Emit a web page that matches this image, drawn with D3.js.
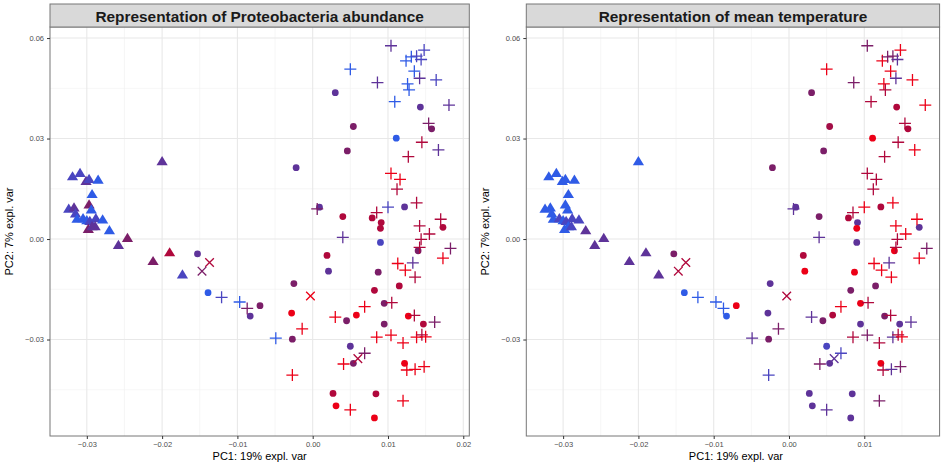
<!DOCTYPE html>
<html><head><meta charset="utf-8">
<script src="https://cdn.jsdelivr.net/npm/d3@7"></script>
<style>body{margin:0;background:#fff;} svg{display:block;font-family:"Liberation Sans",Arial,Helvetica,sans-serif;}</style>
</head><body><svg id="c" width="941" height="465"></svg>
<script>
// PCA coordinates of samples
const pc1 = [-0.0200,-0.0319,-0.0309,-0.0301,-0.0297,-0.0285,-0.0293,-0.0324,-0.0317,-0.0297,-0.0294,-0.0315,-0.0313,-0.0305,-0.0300,-0.0296,-0.0288,-0.0279,-0.0298,-0.0293,-0.0289,-0.0270,-0.0258,-0.0246,-0.0212,-0.0190,-0.0173,
 -0.0153,-0.0139,-0.0083,-0.0070,0.0030,0.0143,0.0054,0.0158,0.0111,0.0046,-0.0022,0.0009,0.0122,0.0040,0.0079,0.0091,0.0090,0.0173,0.0090,0.0140,0.0019,0.0021,0.0087,-0.0025,0.0082,0.0115,0.0095,-0.0028,0.0045,0.0058,0.0127,0.0147,0.0095,-0.0027,0.0050,0.0054,0.0122,0.0027,0.0084,0.0031,0.0082,
 -0.0137,-0.0147,-0.0003,0.0060,
 -0.0121,-0.0097,-0.0087,-0.0049,0.0104,0.0148,0.0050,0.0124,0.0131,0.0138,0.0144,0.0135,0.0142,0.0164,0.0086,0.0126,0.0128,0.0109,0.0181,0.0154,0.0145,0.0167,0.0127,0.0104,0.0116,0.0112,0.0006,0.0085,0.0100,0.0138,0.0170,0.0142,0.0040,0.0155,0.0144,0.0142,0.0183,0.0173,0.0113,0.0133,0.0123,0.0136,0.0069,0.0105,0.0030,0.0135,0.0162,-0.0014,0.0085,0.0104,0.0120,0.0138,0.0145,0.0150,0.0069,0.0041,0.0125,0.0136,0.0148,-0.0027,0.0120,0.0050];
const pc2 = [0.0231,0.0186,0.0196,0.0172,0.0178,0.0176,0.0133,0.0089,0.0093,0.0102,0.0087,0.0075,0.0059,0.0061,0.0055,0.0053,0.0061,0.0057,0.0029,0.0037,0.0037,0.0025,-0.0019,0.0002,-0.0067,-0.0041,-0.0107,
 -0.0044,-0.0160,-0.0230,-0.0199,0.0437,0.0394,0.0336,0.0329,0.0301,0.0263,0.0213,0.0095,0.0096,0.0067,0.0063,0.0049,0.0032,0.0035,-0.0010,-0.0035,-0.0049,-0.0096,-0.0099,-0.0133,-0.0153,-0.0140,-0.0192,-0.0221,-0.0244,-0.0227,-0.0230,-0.0254,-0.0254,-0.0299,-0.0320,-0.0371,-0.0371,-0.0461,-0.0462,-0.0498,-0.0534,
 -0.0070,-0.0096,-0.0170,-0.0357,
 -0.0174,-0.0188,-0.0207,-0.0296,0.0577,0.0564,0.0507,0.0532,0.0544,0.0546,0.0536,0.0501,0.0480,0.0475,0.0467,0.0463,0.0445,0.0410,0.0400,0.0345,0.0289,0.0266,0.0246,0.0196,0.0178,0.0149,0.0090,0.0079,0.0095,0.0108,0.0059,0.0039,0.0005,0.0015,-0.0001,-0.0025,-0.0028,-0.0057,-0.0073,-0.0071,-0.0093,-0.0114,-0.0202,-0.0190,-0.0233,-0.0228,-0.0248,-0.0268,-0.0293,-0.0287,-0.0310,-0.0293,-0.0286,-0.0292,-0.0341,-0.0373,-0.0391,-0.0389,-0.0381,-0.0406,-0.0483,-0.0510];
// point shape group: T triangle, C circle, X cross, P plus
const shapes = "TTTTTTTTTTTTTTTTTTTTTTTTTTT".split("")
  .concat("CCCCCCCCCCCCCCCCCCCCCCCCCCCCCCCCCCCCCCCCC".split(""))
  .concat("XXXX".split(""))
  .concat("PPPPPPPPPPPPPPPPPPPPPPPPPPPPPPPPPPPPPPPPPPPPPPPPPPPPPPPPPPPPPP".split(""));
// relative Proteobacteria abundance (0 = low, 1 = high)
const proteo = [.4,.2,.2,.4,.2,0,0,.2,.4,.55,0,.2,0,0,0,.2,.2,0,.55,.4,.4,0,.4,.55,.55,.75,.2,
 .4,0,.4,.55,.4,.4,.55,.55,0,.55,.4,.4,.4,.75,.75,.75,.75,.75,.2,.55,.75,.4,.55,.55,.75,.75,.55,1,.55,1,1,.75,.55,.55,.4,.55,1,.75,.75,1,1,
 .75,.55,1,.75,
 .2,0,.55,0,.4,.2,0,0,0,.2,.2,0,.4,.2,.4,0,0,0,.4,.55,.75,.4,.75,1,1,.75,.55,.75,.2,.75,.75,.75,.4,.75,.75,.75,.55,1,1,.4,1,.75,1,.75,1,.75,.55,1,1,1,1,1,.75,1,.55,1,1,1,1,1,1,1];
// relative mean temperature (0 = low, 1 = high)
const temp = [0,0,0,0,0,0,0,0,0,0,0,0,0,.2,0,.2,.2,.2,0,0,.2,.4,.4,.4,.4,.4,.4,
 .55,0,0,1,.55,.75,.7,.75,1,.55,.55,.4,.75,.55,.75,.4,1,.4,.4,1,.75,1,1,.4,.55,.55,1,.4,.55,.75,.55,.4,.4,.55,.2,.4,1,.4,.4,.4,.4,
 .75,.75,.75,.4,
 0,0,0,.4,.55,1,1,1,.55,.55,.4,1,.4,1,.55,1,.75,.75,1,.75,.75,1,.75,.75,.75,.75,.4,.75,1,1,1,1,.4,1,.75,.75,.55,1,1,.4,1,1,1,.75,.4,.75,.4,.55,.75,.55,.75,.4,.75,1,.2,.55,.75,.4,.55,.2,.55,.4];
const titles = ["Representation of Proteobacteria abundance", "Representation of mean temperature"];
const xTicks = [-0.03,-0.02,-0.01,0,0.01,0.02];
const xMinor = [-0.025,-0.015,-0.005,0.005,0.015];
const yTicks = [-0.03,0,0.03,0.06];
const yMinor = [-0.045,-0.015,0.015,0.045];
const xLabel = "PC1: 19% expl. var", yLabel = "PC2: 7% expl. var";

const color = d3.scaleLinear()
  .domain([0,0.2,0.4,0.55,0.75,1])
  .range(["#2f5be6","#4a45c0","#5e3399","#7b1e68","#b0083c","#ec0017"])
  .interpolate(d3.interpolateRgb);

const svg = d3.select("#c");
const panels = [
  {x0:50, x1:469.3, w:419.3, vals:proteo, title:titles[0]},
  {x0:526.3, x1:939.6, w:419.3, vals:temp, title:titles[1]}
];
const y0 = 27, y1 = 436;
const y = d3.scaleLinear().domain([-0.0588, 0.0633]).range([y1, y0]);

const triPath = "M0,-5.6L5.6,3.6L-5.6,3.6Z";

panels.forEach((p, pi) => {
  const x = d3.scaleLinear().domain([-0.03489, 0.02080]).range([p.x0, p.x0 + p.w]);
  const g = svg.append("g");
  const cid = "clip" + pi;
  svg.append("clipPath").attr("id", cid).append("rect")
    .attr("x", p.x0).attr("y", y0).attr("width", p.x1 - p.x0).attr("height", y1 - y0);
  const pg = g.append("g").attr("clip-path", `url(#${cid})`);
  pg.append("rect").attr("x", p.x0).attr("y", y0).attr("width", p.x1 - p.x0).attr("height", y1 - y0).attr("fill", "#fff");
  // grid
  pg.selectAll(".xm").data(xMinor).join("line").attr("x1", d => x(d)).attr("x2", d => x(d)).attr("y1", y0).attr("y2", y1)
    .attr("stroke", "#f0f0f0").attr("stroke-width", 0.6);
  pg.selectAll(".ym").data(yMinor).join("line").attr("y1", d => y(d)).attr("y2", d => y(d)).attr("x1", p.x0).attr("x2", p.x1)
    .attr("stroke", "#f0f0f0").attr("stroke-width", 0.6);
  pg.selectAll(".xg").data(xTicks).join("line").attr("x1", d => x(d)).attr("x2", d => x(d)).attr("y1", y0).attr("y2", y1)
    .attr("stroke", "#e8e8e8").attr("stroke-width", 1.1);
  pg.selectAll(".yg").data(yTicks).join("line").attr("y1", d => y(d)).attr("y2", d => y(d)).attr("x1", p.x0).attr("x2", p.x1)
    .attr("stroke", "#e8e8e8").attr("stroke-width", 1.1);
  // points
  const idx = d3.range(pc1.length);
  idx.forEach(i => {
    const cx = x(pc1[i]), cy = y(pc2[i]), col = color(p.vals[i]), s = shapes[i];
    if (s === "T") {
      pg.append("path").attr("d", triPath).attr("transform", `translate(${cx},${cy})`).attr("fill", col);
    } else if (s === "C") {
      pg.append("circle").attr("cx", cx).attr("cy", cy).attr("r", 3.4).attr("fill", col);
    } else if (s === "P") {
      pg.append("path").attr("d", "M-6,0H6M0,-6V6").attr("transform", `translate(${cx},${cy})`)
        .attr("stroke", col).attr("stroke-width", 1.3).attr("fill", "none");
    } else {
      pg.append("path").attr("d", "M-4.3,-4.3L4.3,4.3M-4.3,4.3L4.3,-4.3").attr("transform", `translate(${cx},${cy})`)
        .attr("stroke", col).attr("stroke-width", 1.3).attr("fill", "none");
    }
  });
  // border
  g.append("rect").attr("x", p.x0).attr("y", y0).attr("width", p.x1 - p.x0).attr("height", y1 - y0)
    .attr("fill", "none").attr("stroke", "#777").attr("stroke-width", 1);
  // strip
  g.append("rect").attr("x", p.x0).attr("y", 4).attr("width", p.x1 - p.x0).attr("height", y0 - 4)
    .attr("fill", "#d9d9d9").attr("stroke", "#777").attr("stroke-width", 1);
  g.append("text").attr("x", (p.x0 + p.x1) / 2).attr("y", 21.5).attr("text-anchor", "middle")
    .attr("font-size", 15.4).attr("font-weight", "bold").attr("fill", "#1a1a1a").text(p.title);
  // axes
  const xa = g.append("g").attr("transform", `translate(0,${y1})`)
    .call(d3.axisBottom(x).tickValues(xTicks).tickFormat(d3.format(".2f")).tickSize(3).tickPadding(3));
  const ya = g.append("g").attr("transform", `translate(${p.x0},0)`)
    .call(d3.axisLeft(y).tickValues(yTicks).tickFormat(d3.format(".2f")).tickSize(3).tickPadding(3));
  [xa, ya].forEach(a => {
    a.select(".domain").remove();
    a.selectAll("line").attr("stroke", "#333");
    a.selectAll("text").attr("fill", "#4d4d4d").attr("font-size", 7.5).attr("font-family", "Liberation Sans, Arial, sans-serif");
  });
  xa.selectAll(".tick").filter(d => x(d) > p.x1 - 4).remove();
  g.append("text").attr("x", p.x0 + 419.3 / 2).attr("y", 460).attr("text-anchor", "middle")
    .attr("font-size", 11).attr("fill", "#000").text(xLabel);
  g.append("text").attr("transform", `translate(${p.x0 - 37},${(y0 + y1) / 2}) rotate(-90)`).attr("text-anchor", "middle")
    .attr("font-size", 11).attr("fill", "#000").text(yLabel);
});
</script></body></html>
